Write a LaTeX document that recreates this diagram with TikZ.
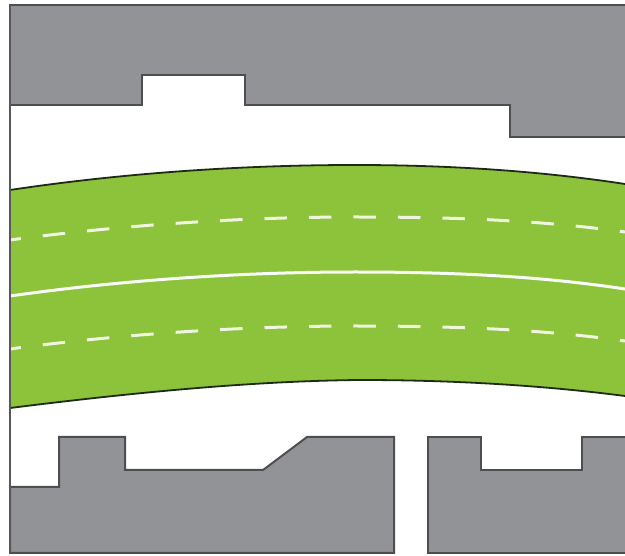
\documentclass[tikz,border=0pt]{standalone}
\definecolor{bld}{HTML}{929396}
\definecolor{bldline}{HTML}{4E4E52}
\definecolor{road}{HTML}{8CC33A}
\definecolor{edge}{HTML}{1E2A14}
\definecolor{frame}{HTML}{58585B}
\definecolor{dashc}{HTML}{F0F5E0}
\tikzset{
  building/.style={fill=bld,draw=bldline,line width=2pt,line join=miter},
  roadedge/.style={draw=edge,line width=1.8pt},
  lanedash/.style={draw=dashc,line width=3pt,dash pattern=on 22.5pt off 22pt,dash phase=11.5pt},
  centerline/.style={draw=white!96!road,line width=3pt}
}
\begin{document}
\begin{tikzpicture}[x=1pt,y=-1pt]
\useasboundingbox (0,0) rectangle (625,556);
\fill[white] (0,0) rectangle (625,556);
\begin{scope}
\clip (0,0) rectangle (625,556);
% buildings
\draw[building] (640,5) -- (10,5) -- (10,105) -- (142,105) -- (142,75) -- (245,75) -- (245,105) -- (510,105) -- (510,137) -- (640,137);
\draw[building] (10,553) -- (10,487) -- (59,487) -- (59,437) -- (125,437) -- (125,470) -- (263,470) -- (307,437) -- (394,437) -- (394,553) -- cycle;
\draw[building] (640,553) -- (428,553) -- (428,437) -- (481,437) -- (481,470) -- (582,470) -- (582,437) -- (640,437);
% road
\fill[road] (10,190) .. controls (130,172) and (250,165) .. (355,165) .. controls (450,165) and (540,171) .. (625,184)
  -- (625,396) .. controls (540,385) and (450,380) .. (360,380) .. controls (250,381) and (130,393) .. (10,408) -- cycle;
\draw[roadedge] (10,190) .. controls (130,172) and (250,165) .. (355,165) .. controls (450,165) and (540,171) .. (625,184);
\draw[roadedge] (625,396) .. controls (540,385) and (450,380) .. (360,380) .. controls (250,381) and (130,393) .. (10,408);
% markings
\draw[centerline] (10,296) .. controls (130,279) and (250,272) .. (355,272) .. controls (450,272) and (540,276) .. (625,289);
\draw[lanedash] (10,240) .. controls (130,224) and (250,217) .. (355,217) .. controls (450,217) and (540,220) .. (625,232);
\draw[lanedash] (10,349) .. controls (130,333) and (250,326) .. (355,326) .. controls (450,326) and (540,329) .. (625,341);
% frame
\draw[frame,line width=2pt] (10,5) -- (10,553);
\end{scope}
\end{tikzpicture}
\end{document}
